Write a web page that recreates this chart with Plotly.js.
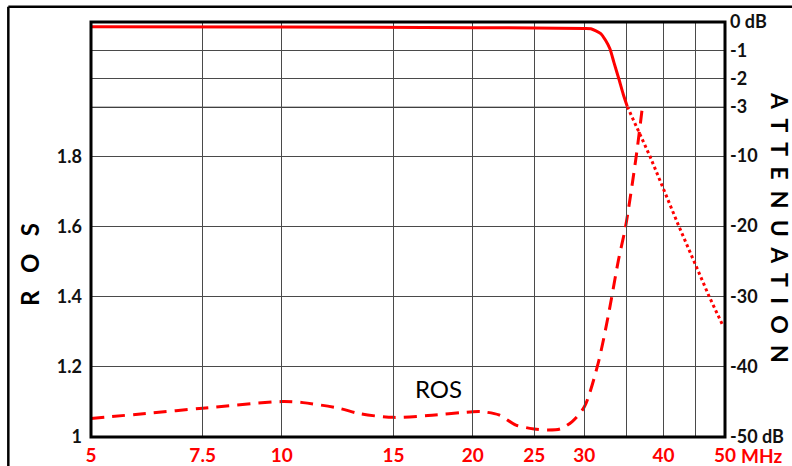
<!DOCTYPE html>
<html>
<head>
<meta charset="utf-8">
<script src="https://cdn.plot.ly/plotly-3.0.1.min.js"></script>
<style>
  html, body { margin: 0; padding: 0; background: #fff; }
  #chart { width: 792px; height: 466px; }
</style>
</head>
<body>
<div id="chart"></div>
<script>
// ---- data ----
const xTickVals = [5, 7.5, 10, 15, 20, 25, 30, 35, 40, 45, 50];
const xTickText = ['5', '7.5', '10', '15', '20', '25', '30', '', '40', '', '50'];

const rosTickVals = [1, 1.2, 1.4, 1.6, 1.8];
const rosTickText = ['1', '1.2', '1.4', '1.6', '1.8'];

const attLowTickVals = [-10, -20, -30, -40, -50];
const attLowTickText = ['-10', '-20', '-30', '-40', '-50 dB'];
const attHighTickVals = [0, -1, -2, -3];
const attHighTickText = ['0 dB', '-1', '-2', '-3'];

// ROS (SWR) curve, dashed
const rosFreq = [5, 6.1, 7.5, 10, 10.8, 12.3, 13.3, 15, 17.0, 20, 20.7, 22.0, 23.4, 25, 26.25, 27.5, 28.7, 30, 31.54, 32.7, 33.95, 34.84, 36.21, 37.04];
const rosVals = [1.053, 1.067, 1.082, 1.101, 1.098, 1.082, 1.066, 1.056, 1.061, 1.072, 1.072, 1.063, 1.034, 1.023, 1.020, 1.023, 1.044, 1.086, 1.210, 1.343, 1.504, 1.599, 1.799, 1.941];

// Attenuation, passband (0 .. -3 dB), solid
const attSolidFreq = [5, 10, 20, 25, 30, 30.72, 31.84, 32.40, 32.92, 33.40, 34.01, 34.55, 35.07];
const attSolidVals = [-0.17, -0.18, -0.2, -0.21, -0.23, -0.24, -0.41, -0.65, -0.95, -1.43, -2.02, -2.56, -3.0];

// Attenuation, stopband (below -3 dB), dotted
const attDotFreq = [35.07, 38.05, 42.28, 47.2, 49.7];
const attDotVals = [-3.0, -10, -20, -30, -34.3];

const RED = '#ff0000';
const FONT = 'Lato, "Open Sans", sans-serif';

const traces = [
  {
    x: rosFreq, y: rosVals, xaxis: 'x', yaxis: 'y', type: 'scatter', mode: 'lines',
    line: { color: RED, width: 3, dash: '13px,8px', shape: 'spline', smoothing: 0.8 },
    hoverinfo: 'skip'
  },
  {
    x: attSolidFreq, y: attSolidVals, xaxis: 'x', yaxis: 'y3', type: 'scatter', mode: 'lines',
    line: { color: RED, width: 3, shape: 'spline', smoothing: 0.6 },
    hoverinfo: 'skip'
  },
  {
    x: attDotFreq, y: attDotVals, xaxis: 'x', yaxis: 'y2', type: 'scatter', mode: 'lines',
    line: { color: RED, width: 3, dash: '3px,3px' },
    hoverinfo: 'skip'
  }
];

const splitDomain = 0.796;
const gridColor = '#4a4a4a';

const layout = {
  width: 792, height: 466,
  margin: { l: 91, r: 67, t: 22, b: 29, pad: 0 },
  paper_bgcolor: '#ffffff', plot_bgcolor: 'rgba(0,0,0,0)',
  showlegend: false,
  font: { family: FONT, color: '#000' },
  xaxis: {
    type: 'log', range: [Math.log10(5), Math.log10(50)],
    tickmode: 'array', tickvals: xTickVals, ticktext: xTickText,
    showgrid: true, gridcolor: gridColor, gridwidth: 1,
    showline: false, zeroline: false, ticks: '',
    ticklabelstandoff: 5,
    tickfont: { family: FONT, size: 19, color: RED, weight: 'bold' },
    anchor: 'y'
  },
  yaxis: {
    range: [1, 2.183], domain: [0, 1],
    tickmode: 'array', tickvals: rosTickVals, ticktext: rosTickText,
    showgrid: true, gridcolor: gridColor, gridwidth: 1,
    showline: false, zeroline: false, ticks: '',
    ticklabelstandoff: 8,
    tickfont: { family: FONT, size: 18, color: '#111', weight: 'bold' },
    anchor: 'x', side: 'left'
  },
  yaxis2: {
    range: [-50, -3], domain: [0, splitDomain],
    tickmode: 'array', tickvals: attLowTickVals, ticktext: attLowTickText,
    showgrid: false, showline: false, zeroline: false, ticks: '',
    ticklabelstandoff: 4,
    tickfont: { family: FONT, size: 18, color: '#111', weight: 'bold' },
    anchor: 'x', side: 'right'
  },
  yaxis3: {
    range: [-3, 0], domain: [splitDomain, 1],
    tickmode: 'array', tickvals: attHighTickVals, ticktext: attHighTickText,
    showgrid: true, gridcolor: gridColor, gridwidth: 1,
    showline: false, zeroline: false, ticks: '',
    ticklabelstandoff: 4,
    tickfont: { family: FONT, size: 18, color: '#111', weight: 'bold' },
    anchor: 'x', side: 'right'
  },
  shapes: [
    // -3 dB boundary line
    { type: 'line', xref: 'paper', x0: 0, x1: 1, yref: 'y2', y0: -3, y1: -3,
      line: { color: '#000', width: 2 }, layer: 'below' },
    // plot frame
    { type: 'rect', xref: 'paper', yref: 'paper', x0: 0, x1: 1, y0: 0, y1: 1,
      line: { color: '#000', width: 3 }, layer: 'above' },
    // outer figure border (left and top)
    { type: 'line', xref: 'paper', yref: 'paper', x0: -0.1304, x1: -0.1304, y0: -0.2, y1: 1.0369,
      line: { color: '#000', width: 2.5 } },
    { type: 'line', xref: 'paper', yref: 'paper', x0: -0.1304, x1: 1.2, y0: 1.0369, y1: 1.0369,
      line: { color: '#000', width: 2.5 } }
  ],
  annotations: [
    { text: 'R&nbsp;&nbsp;&nbsp;O&nbsp;&nbsp;&nbsp;S', xref: 'paper', yref: 'paper', x: -0.0958, y: 0.415,
      textangle: -90, showarrow: false, xanchor: 'center', yanchor: 'middle',
      font: { family: FONT, size: 24, color: '#000', weight: 'bold' } },
    { text: 'A&nbsp;&nbsp;T&nbsp;&nbsp;T&nbsp;&nbsp;E&nbsp;&nbsp;N&nbsp;&nbsp;U&nbsp;&nbsp;A&nbsp;&nbsp;T&nbsp;&nbsp;I&nbsp;&nbsp;O&nbsp;&nbsp;N',
      xref: 'paper', yref: 'paper', x: 1.086, y: 0.505,
      textangle: 90, showarrow: false, xanchor: 'center', yanchor: 'middle',
      font: { family: FONT, size: 23, color: '#000', weight: 'bold' } },
    { text: 'ROS', xref: 'paper', yref: 'paper', x: 0.548, y: 0.1157,
      showarrow: false, xanchor: 'center', yanchor: 'middle',
      font: { family: FONT, size: 24, color: '#000' } },
    { text: 'MHz', xref: 'paper', yref: 'paper', x: 1, y: -0.044, xshift: 14,
      showarrow: false, xanchor: 'left', yanchor: 'middle',
      font: { family: FONT, size: 19, color: RED, weight: 'bold' } }
  ]
};

Plotly.newPlot('chart', traces, layout, { displayModeBar: false, staticPlot: true });
</script>
</body>
</html>
